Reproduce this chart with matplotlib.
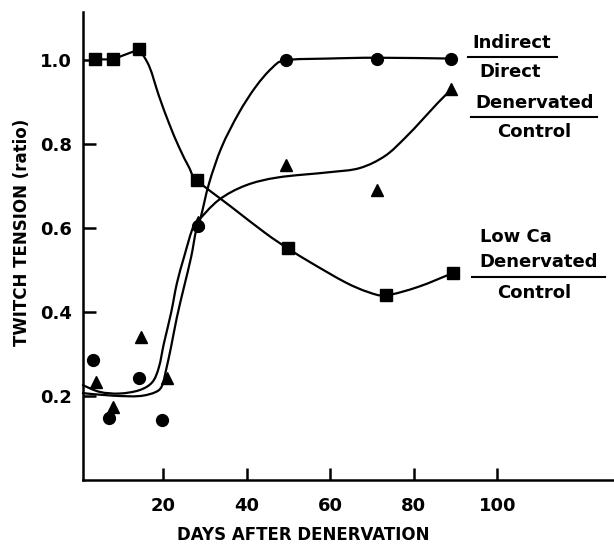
import matplotlib
matplotlib.use("Agg")
import matplotlib.pyplot as plt
from matplotlib.path import Path
from matplotlib.patches import PathPatch

plt.rcParams['font.family'] = ['DejaVu Sans']
plt.rcParams['font.weight'] = 'bold'

# measured points (days after denervation, twitch tension ratio)
ind_days = [3.3, 7.1, 14.3, 19.8, 28.3, 49.5, 71.2, 89.0]
ind_ratio = [0.286, 0.148, 0.243, 0.143, 0.605, 1.0, 1.002, 1.002]

den_days = [4.0, 7.9, 14.8, 21.0, 28.3, 49.5, 71.2, 88.8]
den_ratio = [0.233, 0.174, 0.340, 0.243, 0.614, 0.75, 0.690, 0.931]

lowca_days = [3.6, 7.9, 14.3, 28.1, 49.8, 73.3, 89.3]
lowca_ratio = [1.002, 1.002, 1.026, 0.714, 0.552, 0.440, 0.493]

# hand-drawn fitted curves
ind_curve_x = [0.8, 7.9, 14.3, 18.3, 19.8, 20.7, 21.9, 23.3, 25.0, 26.7,
               27.9, 29.0, 31.0, 34.0, 38.1, 42.1, 46.0, 49.3, 59.5, 71.4, 89.0]
ind_curve_y = [0.207, 0.201, 0.200, 0.210, 0.226, 0.262, 0.317, 0.388,
               0.460, 0.531, 0.595, 0.626, 0.707, 0.793, 0.874, 0.936, 0.981,
               1.0, 1.004, 1.006, 1.004]

den_curve_x = [0.8, 4.8, 9.5, 14.3, 17.4, 19.0, 20.2, 21.9, 23.3, 25.0, 26.9,
               28.1, 33.3, 39.8, 47.6, 59.5, 67.0, 73.1, 77.9, 82.0, 85.7, 88.8]
den_curve_y = [0.226, 0.210, 0.206, 0.214, 0.233, 0.269, 0.326, 0.398, 0.469,
               0.531, 0.595, 0.614, 0.667, 0.702, 0.721, 0.733, 0.743,
               0.772, 0.815, 0.858, 0.898, 0.929]

lowca_curve_x = [3.6, 7.9, 14.3, 16.7, 19.0, 21.4, 23.8, 26.2, 28.1, 36.4, 44.5,
                 49.8, 55.5, 63.6, 69.0, 73.3, 81.0, 89.3]
lowca_curve_y = [1.002, 1.002, 1.026, 0.985, 0.915, 0.850, 0.793, 0.745, 0.714,
                 0.650, 0.588, 0.552, 0.517, 0.471, 0.448, 0.440, 0.460, 0.493]

x_ticks = [20, 40, 60, 80, 100]
y_ticks = [0.2, 0.4, 0.6, 0.8, 1.0]


def smooth_path(xs, ys, straight=0):
    # Catmull-Rom through the traced points, drawn as cubic Bezier segments;
    # the first `straight` segments are plain line segments
    pts = list(zip(xs, ys))
    n = len(pts)
    verts = [pts[0]]
    codes = [Path.MOVETO]
    for i in range(n - 1):
        p1 = pts[i]
        p2 = pts[i + 1]
        if i < straight:
            verts.append(p2)
            codes.append(Path.LINETO)
            continue
        p0 = pts[max(i - 1, straight)]
        p3 = pts[min(i + 2, n - 1)]
        c1 = (p1[0] + (p2[0] - p0[0]) / 6, p1[1] + (p2[1] - p0[1]) / 6)
        c2 = (p2[0] - (p3[0] - p1[0]) / 6, p2[1] - (p3[1] - p1[1]) / 6)
        verts += [c1, c2, p2]
        codes += [Path.CURVE4] * 3
    return Path(verts, codes)


fig = plt.figure(figsize=(6.14, 5.44), dpi=100)
ax = fig.add_axes([0.135, 0.1176, 0.863, 0.8604])

for cx, cy, st in [(ind_curve_x, ind_curve_y, 0), (den_curve_x, den_curve_y, 0),
                   (lowca_curve_x, lowca_curve_y, 2)]:
    patch = PathPatch(smooth_path(cx, cy, st), facecolor='none', edgecolor='k',
                      lw=1.6, capstyle='round', joinstyle='round')
    patch.set_clip_on(False)
    ax.add_patch(patch)

ax.plot(ind_days, ind_ratio, 'ko', ms=8.5, ls='none')
ax.plot(den_days, den_ratio, 'k^', ms=9, ls='none')
ax.plot(lowca_days, lowca_ratio, 'ks', ms=8, ls='none')

ax.set_xlim(0.8, 127.6)
ax.set_ylim(0, 1.115)
ax.set_xticks(x_ticks)
ax.set_yticks(y_ticks)
ax.set_xticklabels([str(t) for t in x_ticks])
ax.set_yticklabels(['%.1f' % t for t in y_ticks])

for s in ['top', 'right']:
    ax.spines[s].set_visible(False)
for s in ['left', 'bottom']:
    ax.spines[s].set_linewidth(1.8)

ax.tick_params(axis='both', direction='in', length=9, width=1.8, labelsize=13)
ax.tick_params(axis='x', pad=12)
ax.tick_params(axis='y', pad=8)

ax.set_xlabel('DAYS AFTER DENERVATION', fontsize=12, fontweight='bold')
ax.set_ylabel('TWITCH TENSION (ratio)', fontsize=12, fontweight='bold')
ax.xaxis.label.set_va('center')
ax.yaxis.label.set_va('center')
ax.xaxis.set_label_coords(0.416, -0.1175)
ax.yaxis.set_label_coords(-0.115, 0.53)

# ratio labels on the right
lab = dict(fontsize=13, fontweight='bold', ha='center', va='center')
ax.text(103.3, 1.04, 'Indirect', **lab)
ax.plot([92.9, 114.3], [1.007, 1.007], 'k-', lw=1.5)
ax.text(103.0, 0.971, 'Direct', **lab)

ax.text(108.8, 0.898, 'Denervated', **lab)
ax.plot([93.6, 123.8], [0.864, 0.864], 'k-', lw=1.5)
ax.text(108.8, 0.829, 'Control', **lab)

ax.text(104.3, 0.579, 'Low Ca', **lab)
ax.text(109.8, 0.519, 'Denervated', **lab)
ax.plot([94.0, 125.7], [0.483, 0.483], 'k-', lw=1.5)
ax.text(108.8, 0.445, 'Control', **lab)

for line in ax.lines:
    line.set_clip_on(False)

fig.savefig('out.png', dpi=100)
